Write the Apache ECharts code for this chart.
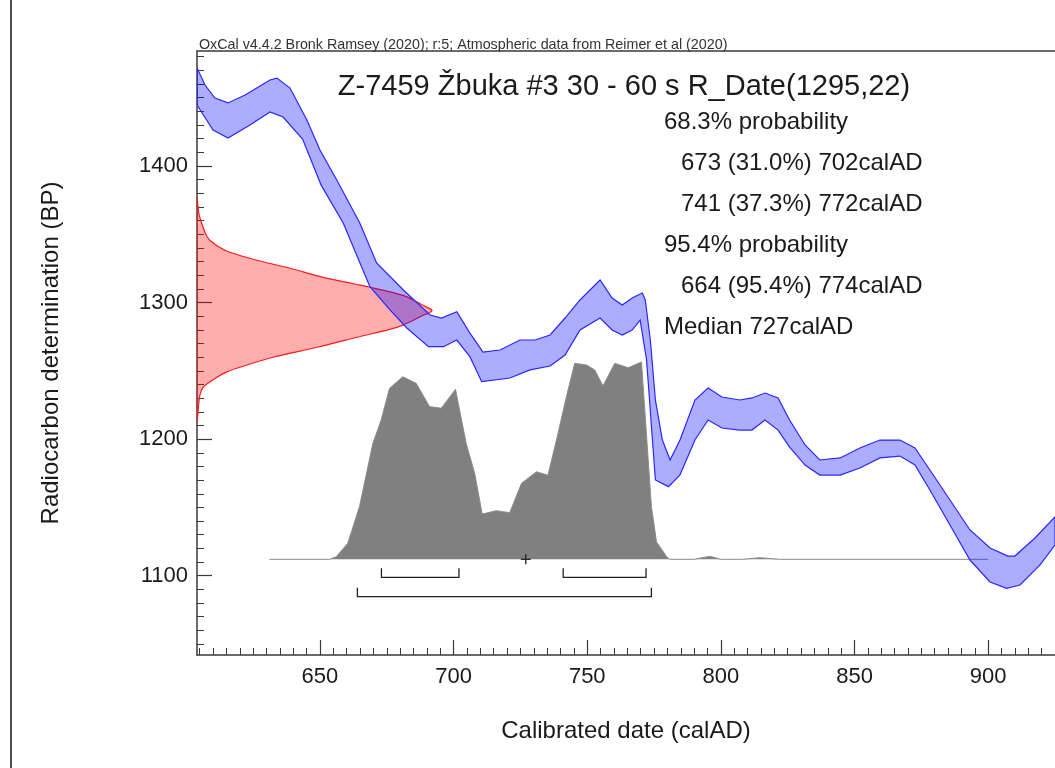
<!DOCTYPE html>
<html><head><meta charset="utf-8">
<script src="https://cdn.jsdelivr.net/npm/echarts@6/dist/echarts.min.js"></script>
<style>html,body{margin:0;padding:0;background:#fff}#c{width:1055px;height:768px}</style>
</head><body><div id="c"></div>
<script>
// Calibration curve (IntCal20) band: upper and lower edges (calAD, BP)
const curveUpperYears = [604.0,607.0,610.7,615.6,622.0,631.3,633.9,638.8,645.1,650.0,656.3,664.9,671.2,681.2,691.2,695.5,701.2,706.1,711.0,717.4,724.8,730.5,736.1,741.7,747.3,754.8,759.3,763.1,766.8,770.6,771.7,773.6,775.5,778.1,781.0,784.7,790.3,795.2,800.4,807.1,811.6,816.5,821.4,825.7,831.5,837.0,844.6,852.0,859.5,867.0,872.6,878.2,885.7,893.2,900.7,907.4,910.0,917.5,925.0];
const curveUpperBP    = [1471.6,1459.1,1449.6,1446.0,1451.8,1462.8,1464.2,1456.9,1433.5,1411.6,1389.6,1358.1,1328.9,1309.1,1290.8,1288.6,1293.2,1277.6,1263.7,1265.2,1272.5,1272.5,1276.2,1288.6,1301.8,1316.4,1303.2,1298.1,1303.2,1306.9,1301.8,1272.5,1228.6,1199.3,1184.7,1199.3,1228.6,1237.4,1230.8,1228.6,1230.1,1233.7,1230.1,1214.0,1195.7,1184.7,1186.2,1193.5,1199.3,1199.3,1193.5,1177.4,1155.4,1133.5,1120.3,1114.4,1114.4,1127.6,1143.0];
const curveLowerYears = [604.0,610.0,615.6,623.8,631.3,636.2,643.5,650.4,658.7,668.7,676.2,682.5,690.6,696.2,701.2,706.1,710.5,721.1,728.6,736.1,741.7,747.3,754.8,759.3,763.1,766.8,769.8,772.2,775.5,780.4,784.7,790.3,795.2,800.4,807.1,811.6,816.5,821.4,825.7,831.5,837.0,844.6,852.0,859.5,867.0,872.6,878.2,885.7,893.2,900.7,906.9,911.9,919.4,925.0];
const curveLowerBP    = [1444.5,1426.2,1420.3,1429.8,1439.4,1435.7,1419.5,1386.0,1358.1,1311.5,1294.5,1281.3,1267.6,1267.6,1272.5,1260.3,1242.0,1244.7,1250.6,1253.5,1261.5,1279.8,1288.6,1279.8,1276.2,1279.8,1287.1,1257.9,1170.1,1165.2,1173.7,1199.3,1214.0,1208.1,1206.6,1206.6,1214.0,1206.6,1194.2,1181.0,1173.7,1173.7,1178.8,1186.2,1187.6,1181.0,1162.7,1137.1,1111.5,1095.4,1090.8,1093.2,1107.9,1122.5];

// Radiocarbon date R_Date(1295,22): relative density vs BP
const dateBP      = [1377,1365,1355,1349,1345.5,1341,1336.7,1330.9,1325,1318.4,1311.1,1305.2,1300,1296.4,1294.3,1292.5,1290.6,1286,1281.8,1274.5,1267.2,1259.9,1252.6,1249,1245.3,1241,1238,1232,1225,1219,1212.5];
const dateDensity = [0,0.008,0.026,0.04,0.055,0.09,0.14,0.255,0.396,0.536,0.736,0.877,0.94,0.979,1.0,0.99,0.962,0.91,0.851,0.681,0.511,0.323,0.183,0.125,0.085,0.048,0.026,0.012,0.007,0.004,0];

// Calibrated (posterior) distribution: relative probability vs calAD
const postYears = [631.1,653.6,656.1,660.4,664.8,669.8,672.9,676.0,681.0,686.0,691.0,695.4,700.7,704.7,707.9,710.7,716.0,721.0,725.4,731.0,735.3,738.5,742.2,745.3,749.7,752.8,755.9,760.3,765.3,770.3,774.0,775.9,779.7,780.9,790,795.9,800,808,814.6,822,900];
const postProb  = [0,0,0.013,0.08,0.265,0.582,0.699,0.857,0.916,0.883,0.766,0.758,0.853,0.582,0.431,0.227,0.244,0.234,0.381,0.439,0.422,0.599,0.816,0.983,0.975,0.95,0.87,0.983,0.961,0.99,0.265,0.088,0.013,0,0,0.015,0,0,0.008,0,0];

const range68 = [[673,702],[741,772]];
const range95 = [[664,774]];
const medianYear = 727;

const xTickValues = [650,700,750,800,850,900];
const yTickValues = [1100,1200,1300,1400];

const headerText = 'OxCal v4.4.2 Bronk Ramsey (2020); r:5; Atmospheric data from Reimer et al (2020)';
const titleText = 'Z-7459 Žbuka #3 30 - 60 s R_Date(1295,22)';
const statLines = [
  ['68.3% probability', 0],
  ['673 (31.0%) 702calAD', 1],
  ['741 (37.3%) 772calAD', 1],
  ['95.4% probability', 0],
  ['664 (95.4%) 774calAD', 1],
  ['Median 727calAD', 0]
];

const FONT = '"Liberation Sans", Arial, sans-serif';
const AXC = '#3a3a3a';
const X_MIN = 604, X_MAX = 925, Y_MIN = 1042, Y_MAX = 1484;

const xMinor = []; for (let v = 605; v <= 925; v += 5) if (v % 50) xMinor.push(v);
const yMinor = []; for (let v = 1050; v <= 1480; v += 10) if (v % 100) yMinor.push(v);

const chart = echarts.init(document.getElementById('c'), null, {renderer:'canvas'});

const graphics = [
  {type:'line', shape:{x1:11,y1:0,x2:11,y2:768}, style:{stroke:'#222',lineWidth:1.6}},
  {type:'text', x:199, y:45, style:{text:headerText, font:'14.3px '+FONT, fill:'#333', align:'left', verticalAlign:'middle'}},
  {type:'text', x:624, y:87, style:{text:titleText, font:'29px '+FONT, fill:'#1a1a1a', align:'center', verticalAlign:'middle'}}
];
statLines.forEach((s, i) => {
  graphics.push({type:'text', x: s[1] ? 681 : 664, y: 122 + i*41, style:{text:s[0], font:'24px '+FONT, fill:'#1a1a1a', align:'left', verticalAlign:'middle'}});
});

const option = {
  animation:false,
  backgroundColor:'#fff',
  grid:{left:197, right:0, top:51, bottom:113},
  xAxis:[
    {type:'value', position:'bottom', min:X_MIN, max:X_MAX,
      name:'Calibrated date (calAD)', nameLocation:'middle', nameGap:64,
      nameTextStyle:{fontSize:24, fontFamily:FONT, color:'#1a1a1a'},
      axisLine:{show:true, onZero:false, lineStyle:{color:AXC, width:1.5}},
      axisTick:{show:true, inside:true, length:15, customValues:xTickValues, lineStyle:{color:AXC, width:1.2}},
      axisLabel:{show:true, customValues:xTickValues, margin:11, fontSize:22, fontFamily:FONT, color:'#1a1a1a', formatter:v=>String(v)},
      splitLine:{show:false}},
    {type:'value', position:'top', min:0, max:858/235,
      axisLine:{show:true, onZero:false, lineStyle:{color:AXC, width:1.5}},
      axisTick:{show:false}, axisLabel:{show:false}, splitLine:{show:false}},
    {type:'value', position:'bottom', min:X_MIN, max:X_MAX,
      axisLine:{show:false, onZero:false},
      axisTick:{show:true, inside:true, length:7, customValues:xMinor, lineStyle:{color:AXC, width:1}},
      axisLabel:{show:false}, splitLine:{show:false}}
  ],
  yAxis:[
    {type:'value', position:'left', min:Y_MIN, max:Y_MAX,
      name:'Radiocarbon determination (BP)', nameLocation:'middle', nameGap:134, nameRotate:90,
      nameTextStyle:{fontSize:24, fontFamily:FONT, color:'#1a1a1a'},
      axisLine:{show:true, onZero:false, lineStyle:{color:AXC, width:1.5}},
      axisTick:{show:true, inside:true, length:15, customValues:yTickValues, lineStyle:{color:AXC, width:1.2}},
      axisLabel:{show:true, customValues:yTickValues, margin:9, fontSize:22, fontFamily:FONT, color:'#1a1a1a', formatter:v=>String(v)},
      splitLine:{show:false}},
    {type:'value', position:'right', min:-0.480, max:2.550, show:false, splitLine:{show:false}},
    {type:'value', position:'left', min:Y_MIN, max:Y_MAX,
      axisLine:{show:false, onZero:false},
      axisTick:{show:true, inside:true, length:7, customValues:yMinor, lineStyle:{color:AXC, width:1}},
      axisLabel:{show:false}, splitLine:{show:false}}
  ],
  graphic:graphics,
  series:[
    {type:'line', xAxisIndex:0, yAxisIndex:1, symbol:'none', z:2,
      data:postYears.map((y,i)=>[y, postProb[i]]),
      lineStyle:{color:'#8c8c8c', width:1},
      areaStyle:{color:'#808080', opacity:1}},
    {type:'custom', xAxisIndex:1, yAxisIndex:0, z:3, clip:true,
      data:[[dateDensity[0], dateBP[0]]],
      renderItem:(params, api) => {
        const pts = dateBP.map((b,i)=>api.coord([dateDensity[i], b]));
        return {type:'polygon', shape:{points:pts, smooth:0.3},
          style:{fill:'rgba(255,0,0,0.32)', stroke:'#ff1a1a', lineWidth:1.2}};
      }},
    {type:'custom', xAxisIndex:0, yAxisIndex:0, z:4, clip:true,
      data:[[curveUpperYears[0], curveUpperBP[0]]],
      renderItem:(params, api) => {
        const pts = [];
        for (let i=0;i<curveUpperYears.length;i++) pts.push(api.coord([curveUpperYears[i], curveUpperBP[i]]));
        for (let i=curveLowerYears.length-1;i>=0;i--) pts.push(api.coord([curveLowerYears[i], curveLowerBP[i]]));
        return {type:'polygon', shape:{points:pts},
          style:{fill:'rgba(0,0,255,0.32)', stroke:'#2626ff', lineWidth:1.2}};
      }},
    {type:'custom', xAxisIndex:0, yAxisIndex:1, z:5,
      data:range68.map(r=>[r[0],r[1],0]).concat(range95.map(r=>[r[0],r[1],1])),
      renderItem:(params, api) => {
        const a = api.coord([api.value(0), 0]);
        const b = api.coord([api.value(1), 0]);
        const y = a[1] + 18 + api.value(2)*19.4;
        return {type:'polyline', shape:{points:[[a[0],y-9],[a[0],y],[b[0],y],[b[0],y-9]]},
          style:{stroke:'#222', lineWidth:1.3, fill:null}};
      }},
    {type:'custom', xAxisIndex:0, yAxisIndex:1, z:6,
      data:[[medianYear, 0]],
      renderItem:(params, api) => {
        const p = api.coord([api.value(0), api.value(1)]);
        return {type:'group', children:[
          {type:'line', shape:{x1:p[0]-5,y1:p[1],x2:p[0]+5,y2:p[1]}, style:{stroke:'#222',lineWidth:1.3}},
          {type:'line', shape:{x1:p[0],y1:p[1]-5,x2:p[0],y2:p[1]+5}, style:{stroke:'#222',lineWidth:1.3}}
        ]};
      }}
  ]
};
chart.setOption(option);
</script>
</body></html>
